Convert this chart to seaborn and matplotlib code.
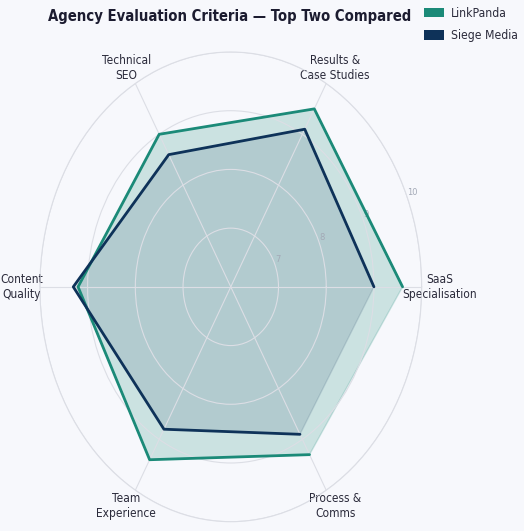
import numpy as np
import matplotlib
matplotlib.use('Agg')
import matplotlib.pyplot as plt
from matplotlib import font_manager
from matplotlib.patches import Patch
import seaborn as sns

# data
categories = ['SaaS\nSpecialisation', 'Results &\nCase Studies', 'Technical\nSEO',
              'Content\nQuality', 'Team\nExperience', 'Process &\nComms']
linkpanda = [9.6, 9.5, 9.0, 9.2, 9.4, 9.3]
siege_media = [9.0, 9.1, 8.6, 9.3, 8.8, 8.9]
agencies = ['LinkPanda', 'Siege Media']
colors = ['#1b8a78', '#0e3259']
fill_alpha = [0.2, 0.13]
r_ticks = [7, 8, 9, 10]

sns.set_theme(style='white')

# reference text is squeezed sideways -> use a condensed face when one is installed
narrow = None
for f in font_manager.fontManager.ttflist:
    squeezed = f.stretch in ('condensed', 'semi-condensed') or 'Condensed' in f.name or 'Narrow' in f.name
    if squeezed and f.style == 'normal' and 'Mono' not in f.name and 'Serif' not in f.name:
        if narrow is None or f.name.startswith('DejaVu'):
            narrow = f
if narrow is not None:
    plt.rcParams['font.family'] = [narrow.name, 'DejaVu Sans']
    plt.rcParams['font.stretch'] = narrow.stretch
    scale = 0.95
else:
    plt.rcParams['font.family'] = ['DejaVu Sans']
    scale = 0.82

bg = '#f7f8fc'
grid_col = '#dcdee5'
text_col = '#2b2b3b'

fig = plt.figure(figsize=(5.24, 5.31), dpi=100, facecolor=bg)
ax = fig.add_axes([0.0761, 0.0175, 0.7286, 0.8846], projection='polar')
ax.set_aspect('auto')
ax.set_facecolor(bg)
ax.set_axisbelow(False)

angles = np.linspace(0, 2 * np.pi, len(categories), endpoint=False)
closed = np.append(angles, angles[0])

for name, vals, col, a in zip(agencies, [linkpanda, siege_media], colors, fill_alpha):
    v = np.append(vals, vals[0])
    ax.fill(closed, v, color=col, alpha=a, zorder=1)
    sns.lineplot(x=closed, y=v, sort=False, ax=ax, color=col, linewidth=2, zorder=3)

ax.set_xlabel('')
ax.set_ylabel('')
ax.set_ylim(6, 10)
ax.set_yticks(r_ticks)
ax.set_yticklabels([str(t) for t in r_ticks], fontsize=7 * scale, color='#a3a9b6')
ax.set_rlabel_position(22.5)
ax.set_xticks(angles)
ax.set_xticklabels(categories, fontsize=9 * scale, color=text_col)
ax.tick_params(axis='x', pad=0)
ax.grid(True, color=grid_col, linewidth=0.8)
ax.spines['polar'].set_color(grid_col)
ax.spines['polar'].set_linewidth(0.8)

fig.text(0.438, 0.969, 'Agency Evaluation Criteria \u2014 Top Two Compared',
         ha='center', va='center', fontsize=10.6, fontweight='bold', color='#1c1c30')

handles = [Patch(facecolor=c, edgecolor='none', label=n) for n, c in zip(agencies, colors)]
fig.legend(handles=handles, loc='upper right', bbox_to_anchor=(1.0, 0.999), frameon=False,
           fontsize=9.2 * scale, handlelength=1.6, handleheight=0.8, handletextpad=0.6,
           labelspacing=0.8, labelcolor=text_col, borderaxespad=0.1)

fig.savefig('out.png', dpi=100, facecolor=bg)
